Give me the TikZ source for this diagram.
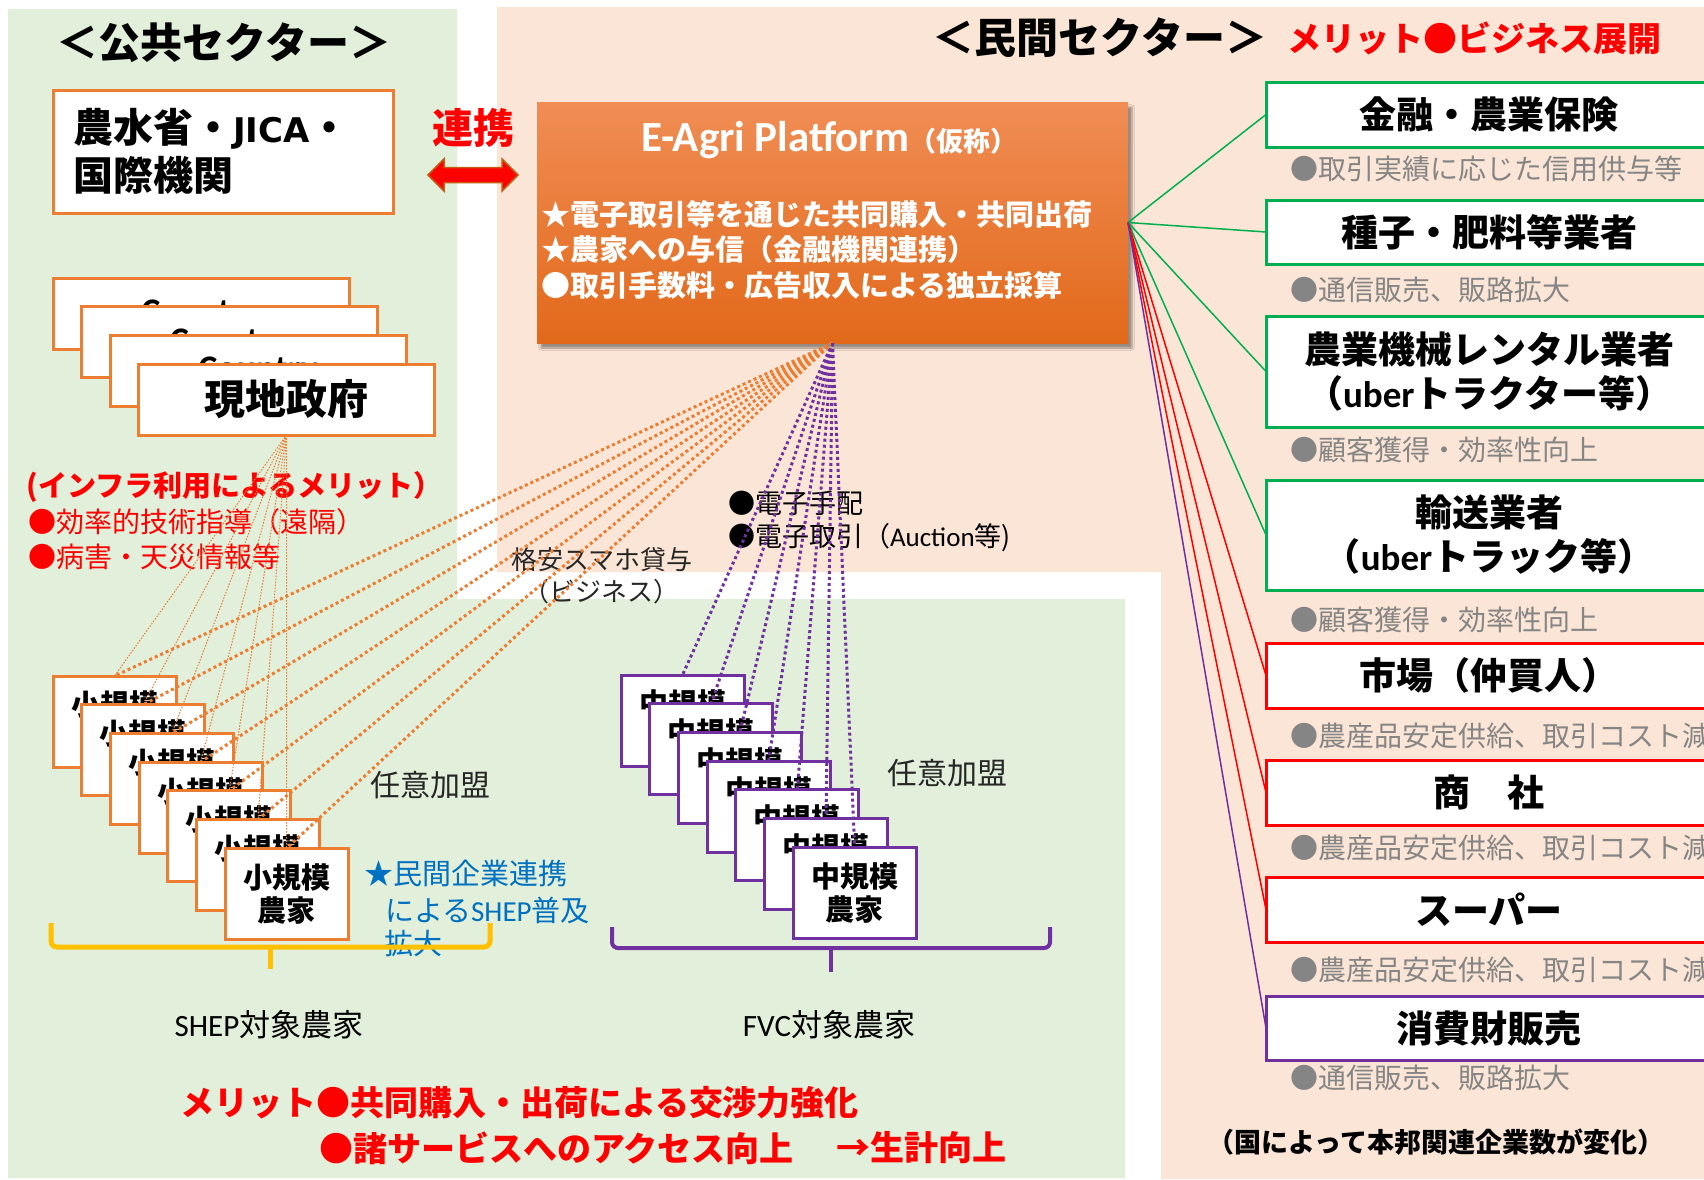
\documentclass[tikz,border=0pt]{standalone}
\usepackage{fontspec}
\setmainfont{Noto Sans CJK JP}
\newfontfamily\carl{Carlito}
\newfontfamily\dvs{DejaVu Sans}
\usetikzlibrary{shadows.blur}
\definecolor{greenbg}{HTML}{E2EFDA}
\definecolor{pinkbg}{HTML}{FBE5D6}
\definecolor{orng}{HTML}{ED7D31}
\definecolor{grn}{HTML}{00B050}
\definecolor{rd}{HTML}{FF0000}
\definecolor{pur}{HTML}{7030A0}
\definecolor{blu}{HTML}{0070C0}
\definecolor{yel}{HTML}{FFC000}
\definecolor{grtxt}{HTML}{858585}
\definecolor{pltop}{HTML}{F08D55}
\definecolor{plbot}{HTML}{E2691A}
\definecolor{arrbrown}{HTML}{C55A11}
\newcommand\fsz[2]{\fontsize{#1}{#2}\selectfont}
\tikzset{
 every node/.style={inner sep=0pt, outer sep=0pt},
 obox/.style={draw=orng, line width=3pt, fill=white},
 farm/.style={anchor=north west, minimum width=123, minimum height=91, align=center, font=\fsz{29}{33}\bfseries, fill=white, line width=3pt},
 gov/.style={obox, anchor=north west, minimum width=296, minimum height=71, font=\fsz{41}{41}\bfseries},
 rbox/.style={draw=#1, line width=3pt, fill=white, anchor=north west, minimum width=446, align=center, font=\fsz{37}{44}\bfseries},
 graytxt/.style={anchor=west, text=grtxt, font=\fsz{28}{28}},
 thinorg/.style={orng, line width=1pt, dash pattern=on 1.5pt off 1.5pt},
 dotorg/.style={orng, line width=3pt, dash pattern=on 3pt off 3pt},
 dotpur/.style={pur, line width=3pt, dash pattern=on 3pt off 3pt},
 link/.style={line width=1.5pt},
}
\begin{document}
\begin{tikzpicture}[x=1pt,y=-1pt]
\useasboundingbox (0,0) rectangle (1704,1179);
\fill[white] (0,0) rectangle (1704,1179);
% backgrounds
\fill[greenbg] (8,9) -- (457,9) -- (457,599) -- (1125,599) -- (1125,1178) -- (8,1178) -- cycle;
\fill[pinkbg] (497,7) -- (1704,7) -- (1704,1179) -- (1161,1179) -- (1161,572) -- (497,572) -- cycle;

% titles
\node[font=\fsz{42}{42}\bfseries] (pubtitle) at (224,43) {＜公共セクター＞};
\node[font=\fsz{42}{42}\bfseries] (privtitle) at (1100,38) {＜民間セクター＞};
\node[anchor=west, text=rd, font=\fsz{34}{34}\bfseries] (privmerit) at (1287,38) {メリット●ビジネス展開};

% JICA box
\node[obox, anchor=north west, minimum width=340, minimum height=123, text width=300, align=left, inner xsep=20pt, font=\fsz{40}{48}\bfseries] (jica) at (53,90) {農水省・{\dvs\fsz{34}{48}JICA}・\\国際機関};
\node[text=rd, font=\fsz{41}{41}\bfseries] (renkei) at (473,128) {連携};
\fill[rd, draw=arrbrown, line width=1.5pt] (428,175) -- (444,159) -- (444,167.5) -- (502,167.5) -- (502,159) -- (518,175) -- (502,191) -- (502,182.5) -- (444,182.5) -- (444,191) -- cycle;

% platform
\node[anchor=north west, minimum width=591, minimum height=241, top color=pltop, bottom color=plbot, blur shadow={shadow xshift=4pt, shadow yshift=-5pt}] (plat) at (537,102) {};
\node[anchor=west, text=white, font=\bfseries] (pltitle) at (641,140) {{\carl\fsz{43}{43}E-Agri Platform}{\fsz{27}{27}（仮称）}};
\node[anchor=west, text=white, font=\fsz{29}{29}\bfseries] (pb1) at (541,214) {★電子取引等を通じた共同購入・共同出荷};
\node[anchor=west, text=white, font=\fsz{29}{29}\bfseries] (pb2) at (541,249) {★農家への与信（金融機関連携）};
\node[anchor=west, text=white, font=\fsz{29}{29}\bfseries] (pb3) at (541,285) {●取引手数料・広告収入による独立採算};

% government stack
\node[gov] (g0) at (53,278) {\raisebox{-10pt}[0pt][0pt]{\carl\fsz{36}{36}Country}};
\node[gov] (g1) at (81.5,306.7) {\raisebox{-10pt}[0pt][0pt]{\carl\fsz{36}{36}Country}};
\node[gov] (g2) at (110,335.4) {\raisebox{-10pt}[0pt][0pt]{\carl\fsz{36}{36}Country}};
\node[gov] (govt) at (138.5,364) {現地政府};

% left red texts
\node[anchor=west, text=rd, font=\fsz{29}{29}\bfseries] (infra) at (27,487) {(インフラ利用によるメリット）};
\node[anchor=west, text=rd, font=\fsz{28}{28}] (infra1) at (28,522) {●効率的技術指導（遠隔）};
\node[anchor=west, text=rd, font=\fsz{28}{28}] (infra2) at (28,557) {●病害・天災情報等};

% middle labels
\node[text=black!85, font=\fsz{26}{26}] (smart1) at (602,560) {格安スマホ貸与};
\node[text=black!85, font=\fsz{26}{26}] (smart2) at (601,592) {（ビジネス）};
\node[anchor=west, font=\fsz{27}{27}] (ed1) at (728,503) {●電子手配};
\node[anchor=west, font=\fsz{27}{27}] (ed2) at (728,538) {●電子取引（{\carl Auction}等)};

% small farmers
\foreach \i in {0,...,6} {
  \node[farm, draw=orng] (s\i) at ({53+28.7*\i},{676+28.7*\i}) {小規模\\農家};
}
% medium farmers
\foreach \i in {0,...,6} {
  \node[farm, draw=pur] (m\i) at ({621+28.7*\i},{675+28.7*\i}) {中規模\\農家};
}

% dotted connectors
\foreach \i in {0,...,6} {
  \draw[thinorg] (govt.south) -- (s\i.north);
  \draw[dotorg] (plat.south) -- (s\i.north);
  \draw[dotpur] (plat.south) -- (m\i.north);
}

% labels near farmers
\node[anchor=west, text=black!85, font=\fsz{30}{30}] (nin1) at (370,785) {任意加盟};
\node[anchor=west, text=black!85, font=\fsz{30}{30}] (nin2) at (887,773) {任意加盟};
\node[anchor=west, text=blu, font=\fsz{29}{29}] (shep1) at (364,873) {★民間企業連携};
\node[anchor=west, text=blu, font=\fsz{29}{29}] (shep2) at (385,910) {による{\carl SHEP}普及};
\node[anchor=west, text=blu, font=\fsz{29}{29}] (shep3) at (384,943) {拡大};

% braces
\draw[yel, line width=5pt, rounded corners=6pt] (51,923) -- (51,947) -- (490,947) -- (490,923);
\draw[yel, line width=5pt] (270,947) -- (270,969);
\draw[pur, line width=4pt, rounded corners=6pt] (612,927) -- (612,948) -- (1050,948) -- (1050,927);
\draw[pur, line width=4pt] (831,948) -- (831,972);

\node[font=\fsz{31}{31}] (shepfarm) at (269,1025) {{\carl SHEP}対象農家};
\node[font=\fsz{31}{31}] (fvcfarm) at (829,1025) {{\carl FVC}対象農家};

\node[anchor=west, text=rd, font=\fsz{34}{34}\bfseries] (merit1) at (180,1103) {メリット●共同購入・出荷による交渉力強化};
\node[anchor=west, text=rd, font=\fsz{34}{34}\bfseries] (merit2) at (319,1148) {●諸サービスへのアクセス向上};
\node[anchor=west, text=rd, font=\fsz{34}{34}\bfseries] (merit3) at (836,1148) {→生計向上};

% right boxes
\node[rbox=grn, minimum height=65] (fin) at (1266,82) {金融・農業保険};
\node[rbox=grn, minimum height=64] (seed) at (1266,200) {種子・肥料等業者};
\node[rbox=grn, minimum height=111] (mach) at (1266,316) {農業機械レンタル業者\\（{\carl uber}トラクター等）};
\node[rbox=grn, minimum height=110] (trans) at (1266,480) {輸送業者\\（{\carl uber}トラック等）};
\node[rbox=rd, minimum height=65] (mkt) at (1266,643) {市場（仲買人）};
\node[rbox=rd, minimum height=65] (trade) at (1266,760) {商　社};
\node[rbox=rd, minimum height=65] (super) at (1266,877) {スーパー};
\node[rbox=pur, minimum height=64] (cons) at (1266,996) {消費財販売};

\node[graytxt] (gt1) at (1290,169) {●取引実績に応じた信用供与等};
\node[graytxt] (gt2) at (1290,290) {●通信販売、販路拡大};
\node[graytxt] (gt3) at (1290,450) {●顧客獲得・効率性向上};
\node[graytxt] (gt4) at (1290,620) {●顧客獲得・効率性向上};
\node[graytxt] (gt5) at (1290,736) {●農産品安定供給、取引コスト減};
\node[graytxt] (gt6) at (1290,848) {●農産品安定供給、取引コスト減};
\node[graytxt] (gt7) at (1290,970) {●農産品安定供給、取引コスト減};
\node[graytxt] (gt8) at (1290,1078) {●通信販売、販路拡大};
\node[font=\fsz{27}{27}\bfseries] (note) at (1436,1142) {（国によって本邦関連企業数が変化）};

% solid connectors
\draw[link, grn] (plat.east) -- (fin.west);
\draw[link, grn] (plat.east) -- (seed.west);
\draw[link, grn] (plat.east) -- (mach.west);
\draw[link, grn] (plat.east) -- (trans.west);
\draw[link, rd] (plat.east) -- (mkt.west);
\draw[link, rd] (plat.east) -- (trade.west);
\draw[link, rd] (plat.east) -- (super.west);
\draw[link, pur] (plat.east) -- (cons.west);
\end{tikzpicture}
\end{document}
